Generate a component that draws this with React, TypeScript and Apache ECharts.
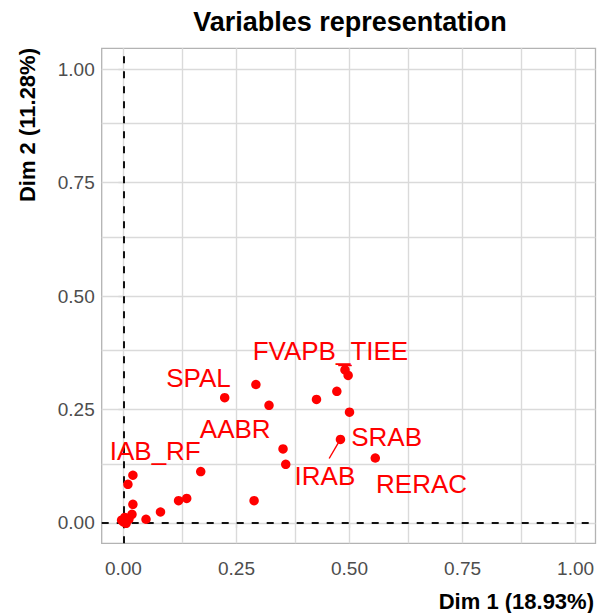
import React, { useEffect, useRef } from "react";
import * as echarts from "echarts";

// Variable coordinates (Dim 1, Dim 2)
const dim1 = [0.293, 0.224, 0.322, 0.427, 0.472, 0.490, 0.497, 0.500, 0.480, 0.557, 0.353, 0.359, 0.289, 0.171, 0.140, 0.122, 0.082, 0.050, 0.021, 0.010, 0.021, 0.019, 0.003, 0.000, 0.006, -0.004, 0.012];
const dim2 = [0.305, 0.276, 0.259, 0.272, 0.290, 0.337, 0.325, 0.244, 0.184, 0.143, 0.163, 0.129, 0.049, 0.113, 0.054, 0.049, 0.024, 0.008, 0.105, 0.085, 0.041, 0.019, 0.012, 0.002, -0.001, 0.006, 0.008];

// Repelled label names and their anchor positions (data units)
const labelNames = ["FVAPB_TIEE", "SPAL", "AABR", "IAB_RF", "SRAB", "IRAB", "RERAC"];
const labelX = [0.4578, 0.1659, 0.2473, 0.0704, 0.582, 0.4456, 0.6594];
const labelY = [0.3787, 0.3196, 0.2071, 0.1577, 0.1897, 0.1023, 0.086];

// Label connector segments [x1, y1, x2, y2]
const segments = [
  [0.4788, 0.1823, 0.455, 0.1419],
  [0.475, 0.348, 0.505, 0.348],
  [0.490, 0.348, 0.491, 0.336],
];

const tickValues = [0, 0.25, 0.5, 0.75, 1];
const gridValues = [0, 0.125, 0.25, 0.375, 0.5, 0.625, 0.75, 0.875, 1];

const FONT = "'Liberation Sans', Arial, sans-serif";

export default function App() {
  const ref = useRef<HTMLDivElement>(null);
  useEffect(() => {
    if (!ref.current) return;
    const chart = echarts.init(ref.current, null, { renderer: "svg" });
    const axisCommon = {
      type: "value",
      axisLine: { show: false },
      splitLine: { show: false },
      axisTick: { show: true, length: 5, lineStyle: { color: "#a6a6a6", width: 1.2 }, customValues: tickValues },
      axisLabel: {
        customValues: tickValues,
        color: "#4d4d4d",
        fontSize: 19,
        fontFamily: FONT,
        formatter: (v: number) => v.toFixed(2),
      },
    };
    chart.setOption({
      animation: false,
      backgroundColor: "#ffffff",
      title: {
        text: "Variables representation",
        left: 345,
        top: 3,
        textAlign: "center",
        textStyle: { fontSize: 27, fontWeight: "bold", color: "#000", fontFamily: FONT },
      },
      grid: {
        left: 101.7,
        top: 48.3,
        right: 2.5,
        bottom: 69.7,
        show: true,
        borderColor: "#b3b3b3",
        borderWidth: 1.3,
        backgroundColor: "#ffffff",
      },
      xAxis: {
        ...axisCommon,
        min: -0.048,
        max: 1.044,
        axisLabel: { ...axisCommon.axisLabel, margin: 16 },
      },
      yAxis: {
        ...axisCommon,
        min: -0.045,
        max: 1.046,
        axisLabel: { ...axisCommon.axisLabel, margin: 7 },
      },
      graphic: [
        {
          type: "text",
          x: 594,
          y: 601,
          style: {
            text: "Dim 1 (18.93%)",
            align: "right",
            verticalAlign: "middle",
            fontSize: 22,
            fontWeight: "bold",
            fontFamily: FONT,
            fill: "#000",
          },
        },
        {
          type: "text",
          x: 27,
          y: 48,
          rotation: Math.PI / 2,
          style: {
            text: "Dim 2 (11.28%)",
            align: "right",
            verticalAlign: "middle",
            fontSize: 22,
            fontWeight: "bold",
            fontFamily: FONT,
            fill: "#000",
          },
        },
      ],
      series: [
        {
          type: "scatter",
          z: 1,
          silent: true,
          symbolSize: 0,
          data: [[0, 0]],
          markLine: {
            z: 1,
            silent: true,
            symbol: ["none", "none"],
            label: { show: false },
            lineStyle: { color: "#dadada", width: 1.4, type: "solid", opacity: 1 },
            data: [
              ...gridValues.map((v) => ({ xAxis: v })),
              ...gridValues.map((v) => ({ yAxis: v })),
            ],
          },
        },
        {
          type: "scatter",
          z: 2,
          silent: true,
          symbolSize: 0,
          data: [[0, 0]],
          markLine: {
            z: 2,
            silent: true,
            symbol: ["none", "none"],
            label: { show: false },
            lineStyle: { color: "#111111", width: 2, type: [7, 8], opacity: 1 },
            data: [{ xAxis: 0 }, { yAxis: 0 }],
          },
        },
        {
          type: "scatter",
          z: 3,
          silent: true,
          symbolSize: 0,
          data: [[0, 0]],
          markLine: {
            z: 3,
            silent: true,
            symbol: ["none", "none"],
            label: { show: false },
            lineStyle: { color: "#ff0000", width: 1.4, type: "solid", opacity: 1 },
            data: segments.map((s) => [{ coord: [s[0], s[1]] }, { coord: [s[2], s[3]] }]),
          },
        },
        {
          type: "scatter",
          z: 10,
          symbol: "circle",
          symbolSize: 9.5,
          itemStyle: { color: "#ff0000", opacity: 1 },
          data: dim1.map((x, i) => [x, dim2[i]]),
        },
        {
          type: "scatter",
          z: 11,
          symbolSize: 0,
          silent: true,
          itemStyle: { opacity: 1 },
          data: labelNames.map((n, i) => ({ name: n, value: [labelX[i], labelY[i]] })),
          label: {
            show: true,
            position: "inside",
            formatter: "{b}",
            color: "#ff0000",
            opacity: 1,
            fontSize: 26,
            fontFamily: FONT,
            align: "center",
            verticalAlign: "middle",
          },
        },
      ],
    });
    return () => chart.dispose();
  }, []);
  return (
    <div
      ref={ref}
      style={{ position: "fixed", left: 0, top: 0, width: 598, height: 613 }}
    />
  );
}
